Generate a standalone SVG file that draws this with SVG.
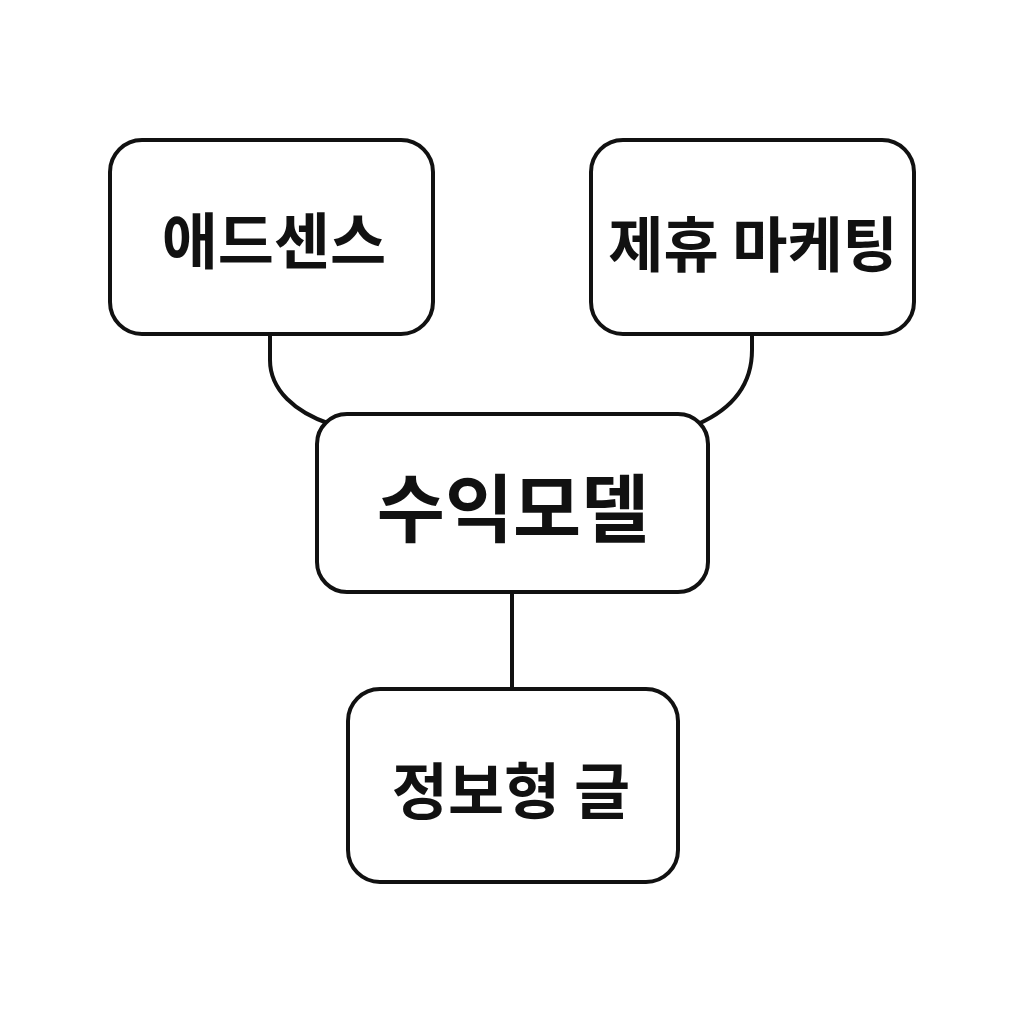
<svg xmlns="http://www.w3.org/2000/svg" width="1024" height="1024" viewBox="0 0 1024 1024">
<style>
.box{fill:#fff;stroke:#111;stroke-width:4}
.lbl{font-family:"Noto Sans CJK KR","Noto Sans",sans-serif;font-weight:bold;fill:#111;text-anchor:middle;dominant-baseline:central}
.con{fill:none;stroke:#111;stroke-width:4}
</style>
<rect width="1024" height="1024" fill="#fff"/>
<g id="connectors">
<path class="con" d="M270 334 V360 C270 390 295 412 330 424"/>
<path class="con" d="M752 334 V350 C752 390 725 412 698 424"/>
<line class="con" x1="512" y1="592" x2="512" y2="689"/>
</g>
<g id="adsense"><rect class="box" x="110" y="140" width="323" height="194" rx="32"/><text class="lbl" x="274" y="237" font-size="61">애드센스</text></g>
<g id="affiliate"><rect class="box" x="591" y="140" width="323" height="194" rx="32"/><text class="lbl" x="753" y="240" font-size="60">제휴 마케팅</text></g>
<g id="revenue"><rect class="box" x="317" y="414" width="391" height="178" rx="30"/><text class="lbl" x="513" y="503" font-size="74">수익모델</text></g>
<g id="info"><rect class="box" x="348" y="689" width="330" height="193" rx="32"/><text class="lbl" x="511" y="787" font-size="61">정보형 글</text></g>
</svg>
